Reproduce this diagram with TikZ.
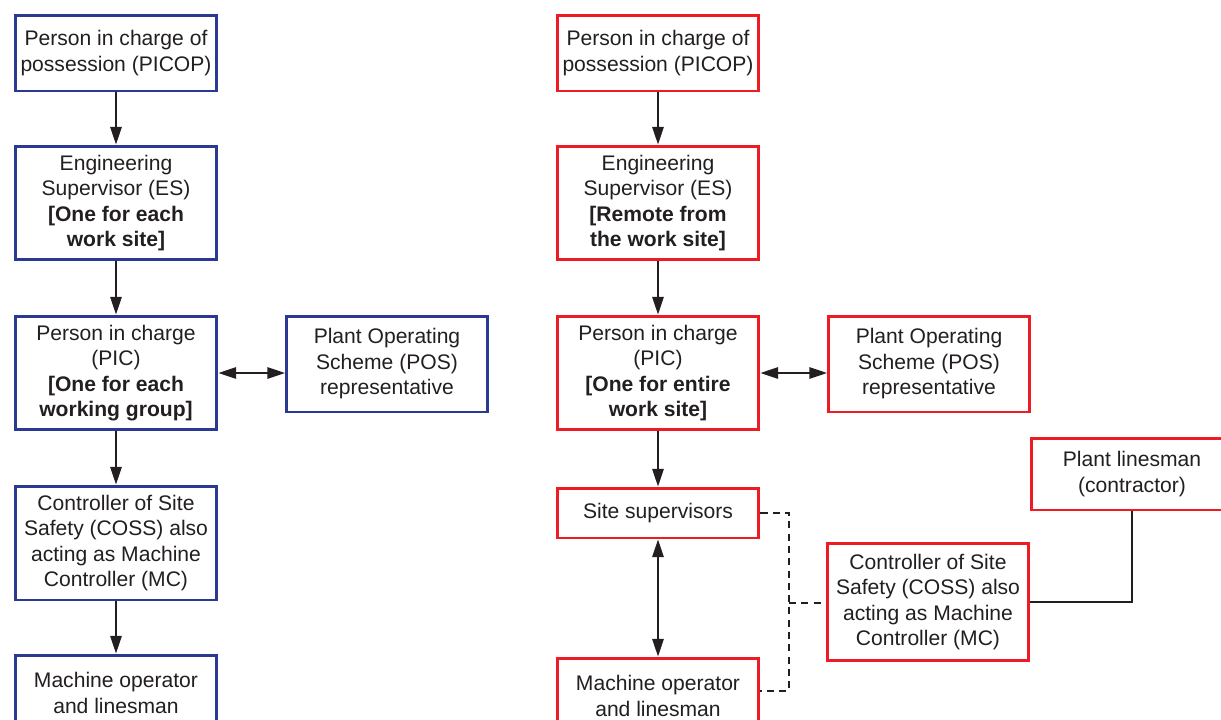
\documentclass[tikz,border=0pt]{standalone}
\usepackage{fontspec}
\setmainfont{Liberation Sans}
\usetikzlibrary{arrows.meta}
\definecolor{txt}{HTML}{231F20}
\definecolor{bl}{HTML}{2B3990}
\definecolor{rd}{HTML}{ED1C24}
\begin{document}
\begin{tikzpicture}[x=0.02cm,y=-0.02cm,
  box/.style={draw, line width=1.7pt, rectangle, align=center, text=txt, inner sep=2pt,
    font=\fontsize{12}{14.5}\selectfont, minimum width=4.04cm, fill=white},
  bbox/.style={box, draw=bl},
  rbox/.style={box, draw=rd},
  arr/.style={draw=txt, line width=0.8pt, -{Triangle[length=10pt,width=6.5pt]}},
  darr/.style={draw=txt, line width=0.8pt, {Triangle[length=10pt,width=6.5pt]}-{Triangle[length=10pt,width=6.5pt]}},
  dline/.style={draw=txt, line width=0.9pt, dash pattern=on 4pt off 3pt},
  sline/.style={draw=txt, line width=0.8pt}]
\useasboundingbox (0,0) rectangle (1221,720);
\clip (0,0) rectangle (1221,720);
% left column
\node[bbox, minimum height=1.52cm] (L1) at (116,53) {Person in charge of\\possession (PICOP)};
\node[bbox, minimum height=2.28cm] (L2) at (116,203) {Engineering\\Supervisor (ES)\\\textbf{[One for each}\\\textbf{work site]}};
\node[bbox, minimum height=2.28cm] (L3) at (116,373) {Person in charge\\(PIC)\\\textbf{[One for each}\\\textbf{working group]}};
\node[bbox, minimum height=2.28cm] (L4) at (116,543) {Controller of Site\\Safety (COSS) also\\acting as Machine\\Controller (MC)};
\node[bbox, minimum height=1.52cm] (L5) at (116,693) {Machine operator\\and linesman};
\node[bbox, minimum width=4.02cm, minimum height=1.92cm] (LP) at (387,364) {Plant Operating\\Scheme (POS)\\representative};
% right column
\node[rbox, minimum height=1.52cm] (R1) at (658,53) {Person in charge of\\possession (PICOP)};
\node[rbox, minimum height=2.28cm] (R2) at (658,203) {Engineering\\Supervisor (ES)\\\textbf{[Remote from}\\\textbf{the work site]}};
\node[rbox, minimum height=2.28cm] (R3) at (658,373) {Person in charge\\(PIC)\\\textbf{[One for entire}\\\textbf{work site]}};
\node[rbox, minimum width=4.02cm, minimum height=1.92cm] (RP) at (929,364) {Plant Operating\\Scheme (POS)\\representative};
\node[rbox, minimum height=1.0cm] (RS) at (658,513) {Site supervisors};
\node[rbox, minimum height=1.52cm] (RM) at (658,696) {Machine operator\\and linesman};
\node[rbox, minimum height=2.34cm] (RC) at (928,602) {Controller of Site\\Safety (COSS) also\\acting as Machine\\Controller (MC)};
\node[rbox, minimum height=1.44cm] (RL) at (1132,474) {Plant linesman\\(contractor)};
% connectors left
\draw[arr] (L1) -- (L2);
\draw[arr] (L2) -- (L3);
\draw[arr] (L3) -- (L4);
\draw[arr] (L4) -- (L5);
\draw[darr] (L3.east) -- (L3.east -| LP.west);
% connectors right
\draw[arr] (R1) -- (R2);
\draw[arr] (R2) -- (R3);
\draw[arr] (R3) -- (RS);
\draw[darr] (R3.east) -- (R3.east -| RP.west);
\draw[darr] (RS) -- (RM);
\coordinate (d1) at (789,513);
\coordinate (d2) at (789,691);
\coordinate (d3) at (789,603);
\draw[dline] (RS.east) -- (d1) -- (d2) -- (d2 -| RM.east);
\draw[dline] (d3) -- (d3 -| RC.west);
\draw[sline] (RL.south) |- (RC.east);
\end{tikzpicture}
\end{document}
